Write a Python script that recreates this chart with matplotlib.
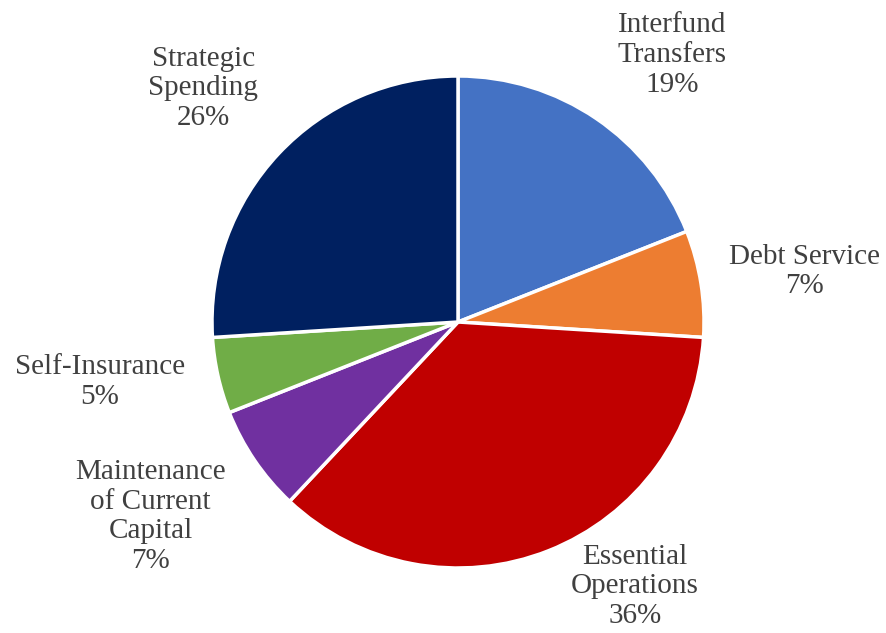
import matplotlib
matplotlib.use('Agg')
import matplotlib.pyplot as plt

# slices, clockwise from 12 o'clock
categories = ['Interfund\nTransfers', 'Debt Service', 'Essential\nOperations',
              'Maintenance\nof Current\nCapital', 'Self-Insurance', 'Strategic\nSpending']
shares = [19, 7, 36, 7, 5, 26]
colors = ['#4472C4', '#ED7D31', '#C00000', '#7030A0', '#70AD47', '#002060']

# where each label sits, in units of pie radius
label_pos = [(0.87, 1.085), (1.41, 0.205), (0.72, -1.075),
             (-1.25, -0.79), (-1.455, -0.245), (-1.035, 0.95)]

W, H = 886, 633
cx, cy, r = 458, 322, 246

fig = plt.figure(figsize=(W / 100, H / 100), dpi=100)
ax = fig.add_axes([0, 0, 1, 1])

ax.pie(shares, colors=colors, startangle=90, counterclock=False, radius=1,
       wedgeprops=dict(edgecolor='white', linewidth=2.5))

for name, val, (x, y) in zip(categories, shares, label_pos):
    ax.text(x, y, f'{name}\n{val}%', ha='center', va='center',
            fontsize=21, family='Liberation Serif', color='#404040',
            linespacing=1.18)

ax.set_xlim(-cx / r, (W - cx) / r)
ax.set_ylim(-(H - cy) / r, cy / r)
ax.set_aspect('equal')
ax.axis('off')

fig.savefig('out.png', dpi=100)
